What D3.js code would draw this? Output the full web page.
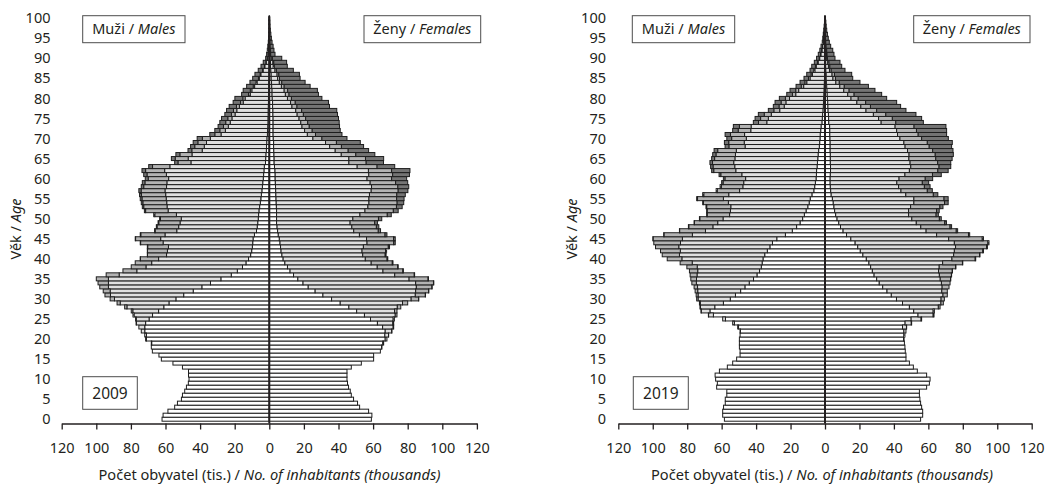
<!DOCTYPE html>
<html>
<head>
<meta charset="utf-8">
<script src="https://cdn.jsdelivr.net/npm/d3@7"></script>
<style>
  body { margin: 0; background: #fff; }
  svg text { font-family: "Noto Sans", sans-serif; fill: #231f20; }
</style>
</head>
<body>
<svg id="chart" width="1045" height="484"></svg>
<script>
// age 0..100, thousands of inhabitants by marital status

const ages = d3.range(0, 101);

// 2009 - males
const m2009Single = [62, 61.4, 58.6, 54.7, 53.1, 50.8, 50.2, 48.9, 47.9, 46.8,
  46.4, 46.7, 46.7, 50.2, 55.7, 62.4, 63.8, 67.6, 68.2, 68,
  71, 71, 72, 72, 71.5, 69.5, 67.5, 64, 61, 58,
  54, 49.5, 44, 39, 34, 28, 22, 18.5, 15.5, 13.5,
  12, 10.8, 10.2, 9.8, 9.6, 9.4, 8.6, 7.4, 7, 6.7,
  6.4, 6.2, 6, 5.6, 5.2, 4.9, 4.6, 4.3, 4, 3.8,
  3.5, 3.3, 3.1, 2.9, 2.2, 2.1, 2, 1.7, 1.6, 1.5,
  1.4, 1.1, 1, 0.9, 0.8, 0.8, 0.7, 0.7, 0.6, 0.5,
  0.5, 0.4, 0.4, 0.3, 0.3, 0.2, 0.2, 0.2, 0.1, 0.1,
  0.1, 0, 0, 0, 0, 0, 0, 0, 0, 0, 0];
const m2009Married = [0, 0, 0, 0, 0, 0, 0, 0, 0, 0,
  0, 0, 0, 0, 0, 0, 0, 0, 0, 0.2,
  0.5, 1, 2, 3.4, 5.3, 7.4, 10.7, 14.9, 21.3, 28.2,
  35.5, 42.3, 48, 54, 59, 65, 64.8, 58.1, 55.8, 54.5,
  52, 48.6, 48.7, 48.5, 51.8, 53.4, 51.7, 46.1, 45.4, 44.9,
  44.5, 47.5, 52.5, 53.5, 54.1, 54.7, 55.3, 56, 55.4, 55.4,
  54.7, 56.2, 57.4, 54.6, 43.1, 44.8, 42.7, 37.1, 36, 34.8,
  32.7, 26.8, 24.4, 22.8, 21.8, 20.8, 19.1, 18.1, 16.7, 14.6,
  13.5, 10.6, 9.7, 8.2, 6.8, 5.6, 4.7, 3.4, 2.5, 1.7,
  1, 0.7, 0.5, 0.35, 0.22, 0.14, 0.1, 0.06, 0.03, 0.03, 0.03];
const m2009Divorced = [0, 0, 0, 0, 0, 0, 0, 0, 0, 0,
  0, 0, 0, 0, 0, 0, 0, 0, 0, 0,
  0, 0, 0, 0, 0.2, 0.4, 0.6, 0.9, 1.3, 1.8,
  2.5, 3.2, 4, 5, 6, 7, 7.5, 8, 8.5, 9.5,
  10.5, 11, 11.5, 12, 13, 14.5, 14, 12.5, 12.5, 12.3,
  12, 12.5, 13, 13.5, 13.8, 14, 14, 13.8, 13.2, 12.7,
  11.8, 11.2, 11, 10, 7.5, 7.5, 7, 6, 5.5, 5,
  4.6, 3.6, 3.2, 2.8, 2.6, 2.4, 2.1, 1.9, 1.7, 1.5,
  1.3, 1, 0.9, 0.8, 0.6, 0.5, 0.4, 0.3, 0.2, 0.2,
  0.1, 0.05, 0.04, 0.03, 0.02, 0.01, 0, 0, 0, 0, 0];
const m2009Widowed = [0, 0, 0, 0, 0, 0, 0, 0, 0, 0,
  0, 0, 0, 0, 0, 0, 0, 0, 0, 0,
  0, 0, 0, 0, 0, 0, 0, 0, 0, 0,
  0, 0, 0, 0, 0, 0, 0, 0, 0, 0,
  0.1, 0.1, 0.1, 0.2, 0.2, 0.2, 0.3, 0.3, 0.4, 0.4,
  0.5, 0.6, 0.7, 0.8, 0.9, 1, 1.1, 1.3, 1.4, 1.5,
  1.7, 1.9, 2.1, 2.2, 1.9, 2.2, 2.3, 2.2, 2.4, 2.7,
  3, 2.9, 2.9, 3.1, 3.4, 3.6, 3.8, 4, 4.2, 4.3,
  4.6, 4, 4.1, 3.8, 3.5, 3.3, 3, 2.5, 2, 1.5,
  0.9, 0.8, 0.62, 0.49, 0.34, 0.24, 0.18, 0.14, 0.07, 0.07, 0.07];

// 2009 - females
const f2009Single = [59, 59.3, 57.4, 52.2, 51, 48.7, 47.4, 46.8, 45.8, 45.2,
  44.9, 44.9, 44.9, 47.4, 53.2, 60.3, 60.3, 64.2, 64.9, 65.6,
  67, 66.8, 67, 65.5, 62.5, 58.5, 55, 50.5, 46, 41,
  36, 31, 26.5, 22.5, 19.5, 16.5, 14, 12, 10.5, 9,
  8, 7.3, 6.8, 6.5, 6.2, 5.8, 5.2, 4.8, 4.5, 4.2,
  4.2, 4.2, 4.2, 4.1, 4, 3.9, 3.8, 3.7, 3.6, 3.5,
  3.4, 3.4, 3.3, 3, 2.8, 2.8, 2.7, 2.6, 2.5, 2.5,
  2.3, 2.2, 2.2, 2.2, 2.2, 2.2, 2.1, 2.1, 1.9, 1.9,
  1.7, 1.6, 1.6, 1.4, 1.3, 1.1, 1.1, 0.9, 0.7, 0.7,
  0.5, 0.2, 0.2, 0.15, 0.1, 0.1, 0.1, 0.05, 0.03, 0.02, 0.02];
const f2009Married = [0, 0, 0, 0, 0, 0, 0, 0, 0, 0,
  0, 0, 0, 0, 0, 0, 0, 0, 0.2, 0.5,
  1, 2.1, 3.7, 6.1, 8.9, 13.1, 17.8, 21.9, 28, 36,
  46, 53.4, 58.1, 62.5, 65.1, 64.3, 58.5, 53.7, 51.9, 49.9,
  47.5, 46.7, 46.8, 47.9, 50.3, 50.4, 46.9, 44, 43.2, 42.5,
  44.1, 48.2, 51.1, 52.9, 53.6, 53.7, 54.1, 55.2, 55.5, 54.8,
  53.1, 54.1, 54, 47.8, 43.2, 43.2, 38.9, 35.5, 32.4, 30,
  22.9, 19.8, 18.2, 16.7, 16, 15, 14, 13.2, 11.2, 10.4,
  8.8, 7.7, 7, 5.6, 4.5, 3.7, 3.4, 2.4, 1.6, 1.4,
  0.95, 0.45, 0.28, 0.2, 0.13, 0.05, 0.01, 0.02, 0.01, 0.01, 0];
const f2009Divorced = [0, 0, 0, 0, 0, 0, 0, 0, 0, 0,
  0, 0, 0, 0, 0, 0, 0, 0, 0, 0,
  0, 0.1, 0.2, 0.3, 0.5, 0.7, 1, 1.4, 2, 3,
  4.3, 5.8, 7.5, 9, 10.3, 11, 11.3, 11.5, 11.8, 12.2,
  12.6, 13, 13.6, 14.4, 15.4, 15.6, 14.8, 14.2, 14.2, 14.2,
  14.8, 15.8, 16.4, 16.5, 16.3, 16, 15.8, 15.6, 15.2, 14.7,
  14.2, 13.8, 13.4, 11.5, 10, 9.6, 8.4, 7.5, 6.8, 6.3,
  5.2, 4.7, 4.4, 4.2, 4, 3.8, 3.6, 3.4, 2.9, 2.7,
  2.3, 2.1, 2, 1.6, 1.4, 1.1, 1, 0.8, 0.6, 0.5,
  0.35, 0.15, 0.12, 0.1, 0.07, 0.05, 0.04, 0.03, 0.02, 0.01, 0.01];
const f2009Widowed = [0, 0, 0, 0, 0, 0, 0, 0, 0, 0,
  0, 0, 0, 0, 0, 0, 0, 0, 0, 0,
  0, 0, 0, 0, 0, 0, 0, 0, 0, 0,
  0.1, 0.1, 0.1, 0.1, 0.2, 0.2, 0.2, 0.3, 0.3, 0.4,
  0.4, 0.5, 0.6, 0.7, 0.9, 1, 1.1, 1.3, 1.4, 1.6,
  1.9, 2.3, 2.8, 3.3, 3.8, 4.3, 4.9, 5.6, 6.3, 7,
  8.7, 9.7, 10.6, 10.2, 10, 10.5, 11, 11.8, 12.8, 13.8,
  14.5, 15.3, 16.2, 17.5, 18.2, 19, 19.7, 20.3, 18.8, 19.2,
  17.6, 17, 17.2, 15, 13.5, 11.9, 11.9, 9.8, 7.5, 7.4,
  5.4, 2.5, 2.1, 1.75, 1.3, 1, 0.75, 0.5, 0.34, 0.26, 0.17];

// 2019 - males
const m2019Single = [58.4, 59.4, 59.4, 58.9, 57.9, 57.9, 57, 57, 62.9, 62.5,
  63.5, 63.8, 61.3, 56.7, 53.6, 51.3, 49.3, 49.3, 49.7, 49.7,
  49.7, 49.3, 49.1, 50.2, 52.6, 57.8, 64.8, 66.8, 64, 59,
  55, 52, 49, 46.5, 44, 41.5, 39.5, 38, 37, 36.5,
  36, 35, 33.5, 32, 30.5, 28, 23, 19, 16.5, 14.5,
  13, 12, 11, 10, 9.2, 8.6, 7.6, 6.5, 6, 5.6,
  5.2, 5, 4.9, 4.6, 4.4, 4.2, 4, 3.7, 3.3, 3.1,
  2.9, 2.8, 2.5, 2.3, 1.8, 1.6, 1.4, 1.2, 1, 0.9,
  0.8, 0.7, 0.6, 0.5, 0.4, 0.3, 0.3, 0.2, 0.2, 0.15,
  0.1, 0.1, 0.08, 0.06, 0.04, 0.03, 0.02, 0.02, 0.01, 0.01, 0];
const m2019Married = [0, 0, 0, 0, 0, 0, 0, 0, 0, 0,
  0, 0, 0, 0, 0, 0, 0, 0, 0, 0,
  0, 0, 0.2, 0.5, 1, 1.6, 2.8, 5, 8.3, 13.4,
  18.7, 21.7, 24.9, 27.5, 30.7, 33.1, 34.8, 35.9, 37.2, 40.6,
  47.1, 49.5, 50.5, 52.9, 53.4, 54.8, 54, 50.4, 48.6, 47.8,
  46.2, 43.4, 43.9, 44.7, 46.9, 50.4, 48.3, 43.1, 41.7, 41.6,
  40.9, 43.3, 46.9, 47.8, 48.6, 48.1, 48, 47.8, 43.1, 43.8,
  42.8, 43.9, 40.6, 40.6, 32, 31.3, 29.8, 25.1, 22.7, 21.8,
  19.8, 16.3, 14.7, 11.9, 10.2, 8.4, 7, 5.7, 4.9, 3.85,
  3, 2.3, 1.72, 1.29, 0.89, 0.7, 0.52, 0.35, 0.25, 0.14, 0.09];
const m2019Divorced = [0, 0, 0, 0, 0, 0, 0, 0, 0, 0,
  0, 0, 0, 0, 0, 0, 0, 0, 0, 0,
  0, 0, 0, 0, 0, 0, 0.1, 0.2, 0.3, 0.5,
  0.8, 1.1, 1.5, 2, 2.6, 3.3, 4, 4.8, 6, 7,
  8.5, 10, 11.5, 13.5, 15.5, 17, 16.5, 15, 14, 13.5,
  13.5, 13, 13.5, 14, 14.5, 15, 14.5, 13, 12.5, 12,
  12, 12.2, 12.8, 12.6, 12.3, 11.8, 11.3, 10.8, 9.4, 9,
  8.5, 8.2, 7.3, 6.8, 4.8, 4.5, 4.1, 3.4, 3, 2.8,
  2.4, 1.9, 1.7, 1.4, 1.1, 0.9, 0.8, 0.6, 0.5, 0.4,
  0.3, 0.2, 0.15, 0.1, 0.07, 0.05, 0.04, 0.03, 0.02, 0.01, 0.01];
const m2019Widowed = [0, 0, 0, 0, 0, 0, 0, 0, 0, 0,
  0, 0, 0, 0, 0, 0, 0, 0, 0, 0,
  0, 0, 0, 0, 0, 0, 0, 0, 0, 0,
  0, 0, 0, 0, 0, 0, 0, 0, 0, 0,
  0, 0, 0, 0, 0, 0.1, 0.1, 0.1, 0.2, 0.2,
  0.2, 0.3, 0.3, 0.4, 0.4, 0.5, 0.6, 0.6, 0.7, 0.8,
  0.9, 1, 1.2, 1.4, 1.5, 1.7, 1.9, 2.1, 2.2, 2.5,
  2.8, 3.1, 3.2, 3.5, 3, 3.2, 3.4, 3.2, 3.3, 3.5,
  3.5, 3.3, 3.3, 3, 2.8, 2.6, 2.5, 2.2, 2.1, 1.8,
  1.5, 1.3, 1.05, 0.85, 0.6, 0.52, 0.42, 0.3, 0.22, 0.14, 0.1];

// 2019 - females
const f2019Single = [55.5, 56.7, 56.7, 56.1, 55.5, 55.1, 54.8, 54.8, 59, 60.6,
  61, 59, 53.6, 51.3, 49, 47, 47, 46.6, 46.4, 46.1,
  45.6, 45.8, 45.8, 45, 46.5, 50, 54, 51.5, 49, 45,
  41.5, 38.5, 36, 33.5, 31.5, 30, 28.5, 27.5, 26.5, 25.5,
  24, 22, 20.5, 19, 17.5, 15, 12.5, 10.5, 9, 8,
  7, 6.2, 5.6, 5.2, 4.8, 4.3, 3.6, 3.3, 3.1, 3,
  3, 3.1, 3.2, 3.2, 3.1, 3.1, 3.1, 3, 3, 3,
  2.9, 2.8, 2.8, 2.7, 2.2, 2.1, 2, 1.8, 1.7, 1.6,
  1.4, 1.3, 1.2, 1, 0.8, 0.7, 0.7, 0.5, 0.4, 0.4,
  0.3, 0.25, 0.2, 0.15, 0.12, 0.1, 0.07, 0.05, 0.04, 0.03, 0.02];
const f2019Married = [0, 0, 0, 0, 0, 0, 0, 0, 0, 0,
  0, 0, 0, 0, 0, 0, 0, 0, 0, 0,
  0.3, 0.6, 1.2, 2.3, 3.6, 5.8, 8.8, 11.3, 16.8, 22.3,
  25.9, 30, 31.8, 34.5, 36.1, 36.9, 37.9, 38.4, 39.8, 42.8,
  49.7, 52.7, 54.6, 56.8, 57.6, 56.8, 52.3, 48.2, 46.6, 45,
  43.4, 42.3, 42.9, 44.5, 46.8, 47.3, 43.3, 40.8, 39.6, 38.7,
  40, 43.3, 45.8, 46.6, 46.3, 45.6, 45.7, 44.9, 43.5, 42.8,
  40.6, 39.3, 38.8, 38, 30.4, 29, 26.1, 22, 19.1, 16.9,
  13.7, 11.9, 9.7, 7.6, 5.5, 3.9, 3.4, 2.1, 1.6, 1.2,
  0.65, 0.57, 0.48, 0.28, 0.17, 0.08, 0.05, 0.01, 0, 0, 0];
const f2019Divorced = [0, 0, 0, 0, 0, 0, 0, 0, 0, 0,
  0, 0, 0, 0, 0, 0, 0, 0, 0, 0,
  0, 0, 0, 0.1, 0.2, 0.3, 0.5, 0.7, 1, 1.4,
  1.9, 2.5, 3.2, 4, 5, 6, 7, 8, 9.5, 11.5,
  13.5, 15, 16.5, 18, 19.5, 19.5, 18.5, 17.5, 17, 16.5,
  16, 16, 16.3, 17, 17.8, 17.5, 16, 15.3, 15, 14.8,
  15.2, 16, 16.5, 16.4, 16, 15.6, 15.2, 14.6, 14, 13.6,
  12.6, 12, 11.5, 11, 8.5, 8, 7.2, 6.2, 5.6, 5.1,
  4.2, 3.7, 3.1, 2.6, 2, 1.5, 1.4, 1, 0.8, 0.7,
  0.45, 0.38, 0.32, 0.22, 0.16, 0.12, 0.08, 0.06, 0.04, 0.03, 0.02];
const f2019Widowed = [0, 0, 0, 0, 0, 0, 0, 0, 0, 0,
  0, 0, 0, 0, 0, 0, 0, 0, 0, 0,
  0, 0, 0, 0, 0, 0, 0, 0, 0, 0,
  0, 0, 0, 0, 0, 0.1, 0.1, 0.1, 0.2, 0.2,
  0.3, 0.3, 0.4, 0.5, 0.6, 0.7, 0.7, 0.8, 0.9, 1,
  1.1, 1.3, 1.5, 1.8, 2.1, 2.4, 2.6, 2.9, 3.3, 3.7,
  4.3, 5.1, 6, 6.8, 7.6, 9.5, 10.5, 11.8, 13, 14.5,
  15.5, 16.5, 17.5, 18.5, 16, 17, 17.5, 17, 17.5, 18,
  16.5, 16, 15, 14, 12, 10, 10, 8, 6.9, 6.4,
  4.4, 4, 3.5, 2.65, 2.05, 1.6, 1.2, 0.88, 0.62, 0.44, 0.26];

const statusKeys = ["single", "married", "divorced", "widowed"];
const statusFill = { single: "#ffffff", married: "#e0e0e0", divorced: "#b3b3b3", widowed: "#747474" };
const xTicks = [-120, -100, -80, -60, -40, -20, 0, 20, 40, 60, 80, 100, 120];
const ageTicks = [0, 5, 10, 15, 20, 25, 30, 35, 40, 45, 50, 55, 60, 65, 70, 75, 80, 85, 90, 95, 100];

const panels = [
  { year: "2009", x0: 61.7, x1: 476.9, ageX: 50.5, vekX: 20.5, titleX: 269.5,
    maleBox: [82.7, 185], femaleBox: [364, 480.7], yearBox: [82.7, 137.3],
    males: [m2009Single, m2009Married, m2009Divorced, m2009Widowed],
    females: [f2009Single, f2009Married, f2009Divorced, f2009Widowed] },
  { year: "2019", x0: 618.3, x1: 1031.7, ageX: 606, vekX: 577, titleX: 822,
    maleBox: [632.3, 734.7], femaleBox: [913.7, 1030], yearBox: [633.3, 688.3],
    males: [m2019Single, m2019Married, m2019Divorced, m2019Widowed],
    females: [f2019Single, f2019Married, f2019Divorced, f2019Widowed] }
];

const svg = d3.select("#chart");
const y = d3.scaleLinear().domain([0, 100]).range([419.2, 18.2]);
const barH = y(0) - y(1);
const axisY = 423.5;

function rowsOf(series) {
  return ages.map(function(a, i) {
    const r = { age: a };
    statusKeys.forEach(function(k, j) { r[k] = series[j][i]; });
    return r;
  });
}

panels.forEach(function(p) {
  const x = d3.scaleLinear().domain([-120, 120]).range([p.x0, p.x1]);
  const g = svg.append("g");
  const stack = d3.stack().keys(statusKeys);

  [["m", p.males, -1], ["f", p.females, 1]].forEach(function(side) {
    const sign = side[2];
    const layers = stack(rowsOf(side[1]));
    g.append("g")
      .selectAll("g")
      .data(layers)
      .join("g")
        .attr("fill", function(d) { return statusFill[d.key]; })
      .selectAll("rect")
      .data(function(d) { return d.filter(function(s) { return s[1] - s[0] > 0; }); })
      .join("rect")
        .attr("x", function(d) { return sign < 0 ? x(-d[1]) : x(d[0]); })
        .attr("width", function(d) { return Math.abs(x(d[1]) - x(d[0])); })
        .attr("y", function(d) { return y(d.data.age) - barH / 2; })
        .attr("height", barH)
        .attr("stroke", "#1e1e1e")
        .attr("stroke-width", 1);
  });

  // centre line
  g.append("line")
    .attr("x1", x(0)).attr("x2", x(0))
    .attr("y1", 16.5).attr("y2", axisY)
    .attr("stroke", "#231f20").attr("stroke-width", 2);

  // x axis
  const ax = g.append("g")
    .attr("transform", "translate(0," + axisY + ")")
    .call(d3.axisBottom(x).tickValues(xTicks).tickFormat(function(d) { return Math.abs(d); })
      .tickSize(6).tickSizeOuter(0).tickPadding(13));
  ax.selectAll("path, line").attr("stroke", "#231f20").attr("stroke-width", 1.3);
  ax.selectAll("text").attr("font-size", 14.5).attr("font-family", "Noto Sans").attr("fill", "#231f20");

  // age labels
  const ay = g.append("g")
    .attr("transform", "translate(" + p.ageX + ",0)")
    .call(d3.axisLeft(y).tickValues(ageTicks).tickSize(0).tickPadding(0));
  ay.select(".domain").remove();
  ay.selectAll("text").attr("font-size", 14.5).attr("font-family", "Noto Sans").attr("fill", "#231f20");

  // y title
  const vt = g.append("text")
    .attr("transform", "translate(" + p.vekX + ",229) rotate(-90)")
    .attr("text-anchor", "middle")
    .attr("font-size", 14.5);
  vt.append("tspan").text("Věk / ");
  vt.append("tspan").attr("font-style", "italic").text("Age");

  // x title
  const xt = g.append("text")
    .attr("x", p.titleX).attr("y", 480)
    .attr("text-anchor", "middle")
    .attr("font-size", 14.6);
  xt.append("tspan").text("Počet obyvatel (tis.) / ");
  xt.append("tspan").attr("font-style", "italic").text("No. of inhabitants (thousands)");

  // labelled boxes
  function box(b, top, bottom, plain, italic, size) {
    g.append("rect")
      .attr("x", b[0]).attr("y", top)
      .attr("width", b[1] - b[0]).attr("height", bottom - top)
      .attr("fill", "#fff").attr("stroke", "#4d4d4d").attr("stroke-width", 1);
    const t = g.append("text")
      .attr("x", (b[0] + b[1]) / 2).attr("y", (top + bottom) / 2 + size * 0.36)
      .attr("text-anchor", "middle").attr("font-size", size);
    t.append("tspan").text(plain);
    if (italic) t.append("tspan").attr("font-style", "italic").text(italic);
  }
  box(p.maleBox, 15.7, 42.7, "Muži / ", "Males", 14.5);
  box(p.femaleBox, 15.7, 42.7, "Ženy / ", "Females", 14.5);
  box(p.yearBox, 376.7, 409.3, p.year, null, 15.5);
});
</script>
</body>
</html>
